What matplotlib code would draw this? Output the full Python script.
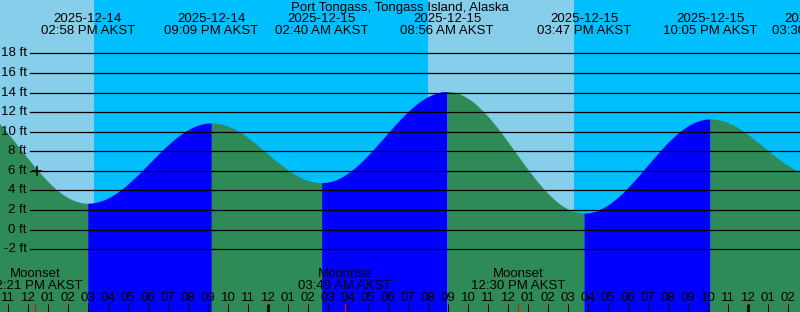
import numpy as np
import pandas as pd
import matplotlib
matplotlib.use("Agg")
import matplotlib.pyplot as plt
import matplotlib.dates as mdates

STATION = "Port Tongass, Tongass Island, Alaska"

# tide extremes, local time (AKST); the first one lies before the window (not labelled)
tide_times = ["2025-12-14 08:16", "2025-12-14 14:58", "2025-12-14 21:09", "2025-12-15 02:40",
              "2025-12-15 08:56", "2025-12-15 15:47", "2025-12-15 22:05", "2025-12-16 03:30"]
tide_heights = [13.7, 2.7, 10.9, 4.8, 14.1, 1.7, 11.3, 5.5]

sun_times = ["2025-12-14 15:17", "2025-12-15 07:59", "2025-12-15 15:17"]
sun_events = ["set", "rise", "set"]

moon_times = ["2025-12-14 12:21", "2025-12-15 03:49", "2025-12-15 12:30"]
moon_events = ["Moonset", "Moonrise", "Moonset"]

now_time = "2025-12-14 12:27"
now_height = 6.0

height_ticks = [-2, 0, 2, 4, 6, 8, 10, 12, 14, 16, 18]

window_start = "2025-12-14 10:35"
window_hours = 40

DAY = "#87CEEB"
NIGHT = "#00BFFF"
RISING = "#0000FF"
FALLING = "#2E8B57"

plt.rcParams["font.family"] = ["Liberation Sans", "DejaVu Sans"]
FS = 9.5

t0 = pd.Timestamp(window_start)
t1 = t0 + pd.Timedelta(hours=window_hours)
x0, x1 = mdates.date2num(t0), mdates.date2num(t1)
y0, y1 = -8.40, 23.44

fig = plt.figure(figsize=(8, 3.12), dpi=100)
ax = fig.add_axes([0, 0, 1, 1])
ax.set_xlim(x0, x1)
ax.set_ylim(y0, y1)
for s in ax.spines.values():
    s.set_visible(False)

# day / night background
bounds = [x0] + [mdates.date2num(pd.Timestamp(s)) for s in sun_times] + [x1]
for i in range(len(bounds) - 1):
    if i < len(sun_events):
        is_day = sun_events[i] == "set"
    else:
        is_day = sun_events[-1] == "rise"
    ax.axvspan(bounds[i], bounds[i + 1], color=DAY if is_day else NIGHT, lw=0, zorder=0)

# tide curve, cosine shape between extremes
tx = [mdates.date2num(pd.Timestamp(s)) for s in tide_times]
for i in range(len(tx) - 1):
    tt = np.linspace(tx[i], tx[i + 1], 300)
    h0, h1 = tide_heights[i], tide_heights[i + 1]
    hh = h0 + (h1 - h0) * (1 - np.cos(np.pi * (tt - tx[i]) / (tx[i + 1] - tx[i]))) / 2
    ax.fill_between(tt, y0, hh, color=RISING if h1 > h0 else FALLING, lw=0, zorder=1)

# height grid and labels
for h in height_ticks:
    ax.axhline(h, xmin=29.5 / 800, xmax=1, color="black", lw=0.9, zorder=2)
    ax.text(27 / 800, h, f"{h} ft", transform=ax.get_yaxis_transform(),
            ha="right", va="center", fontsize=FS, zorder=3)

ax.set_yticks([])

# title and extreme labels
ax.text(0.5, 1 - 8 / 312, STATION, transform=ax.transAxes,
        ha="center", va="center", fontsize=FS)
xt = ax.get_xaxis_transform()
for s in tide_times[1:]:
    ts = pd.Timestamp(s)
    x = mdates.date2num(ts)
    ax.text(x, 1 - 19.5 / 312, ts.strftime("%Y-%m-%d"), transform=xt,
            ha="center", va="center", fontsize=FS, clip_on=True)
    ax.text(x, 1 - 31 / 312, ts.strftime("%I:%M %p AKST"), transform=xt,
            ha="center", va="center", fontsize=FS, clip_on=True)

# moon events
for s, name in zip(moon_times, moon_events):
    ts = pd.Timestamp(s)
    x = mdates.date2num(ts)
    ax.text(x, 1 - 274 / 312, name, transform=xt, ha="center", va="center", fontsize=FS)
    ax.text(x, 1 - 286 / 312, ts.strftime("%I:%M %p AKST"), transform=xt,
            ha="center", va="center", fontsize=FS)
    ax.vlines(x, 0, 8 / 312, transform=xt, color="red", lw=0.8, zorder=4)

# current time marker
ax.plot(mdates.date2num(pd.Timestamp(now_time)), now_height, marker="+",
        color="black", markersize=7, mew=1.1, zorder=5)

# hour ticks
hours = pd.date_range(t0.ceil("h"), t1, freq="h")
midnights = [h for h in hours if h.hour == 0]
ax.set_xticks(mdates.date2num(midnights))
ax.set_xticks(mdates.date2num(hours), minor=True)
ax.tick_params(axis="x", which="both", direction="in", length=5.8, color="black",
               labelbottom=False)
ax.tick_params(axis="x", which="major", width=1.9)
ax.tick_params(axis="x", which="minor", width=0.75)
for h in hours:
    ax.text(mdates.date2num(h), 1 - 298 / 312, h.strftime("%I"), transform=xt,
            ha="center", va="center", fontsize=FS, zorder=3)

fig.savefig("out.png", dpi=100)
